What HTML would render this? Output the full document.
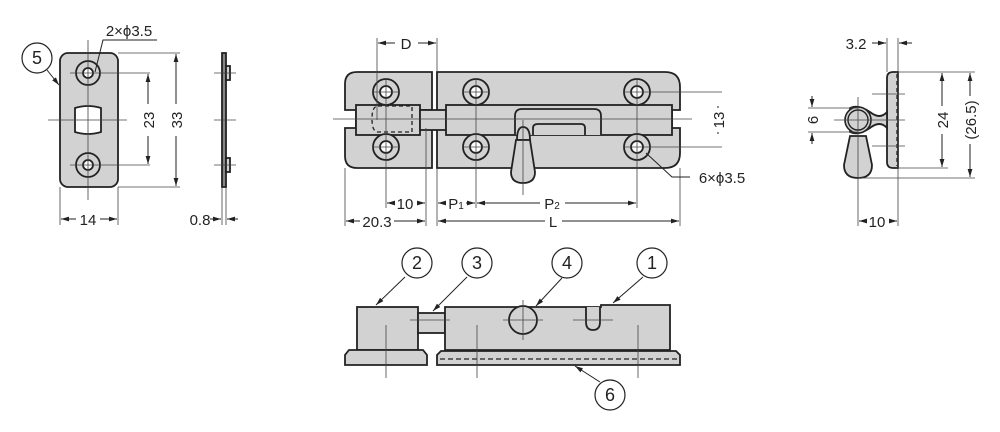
<!DOCTYPE html>
<html><head><style>html,body{margin:0;padding:0;background:#fff}svg{display:block}</style></head>
<body>
<svg width="1000" height="432" viewBox="0 0 1000 432" xmlns="http://www.w3.org/2000/svg" font-family="Liberation Sans, sans-serif" font-size="14" fill="#222">
<defs>
<marker id="a" viewBox="0 0 10 10" refX="10" refY="5" markerWidth="8" markerHeight="8" orient="auto-start-reverse"><path d="M0,2 L10,5 L0,8 z" fill="#222"/></marker>
</defs>
<g stroke="#222" stroke-width="1.8" fill="#d2d2d2">
<rect x="60" y="53" width="58" height="134" rx="8"/>
<circle cx="88" cy="73" r="12"/><circle cx="88" cy="73" r="5" fill="#fff"/>
<circle cx="88" cy="165" r="12"/><circle cx="88" cy="165" r="5" fill="#fff"/>
<path d="M75,108 Q88,104 101,108 L101,132 Q88,136 75,132 Z" fill="#fff"/>
<rect x="222" y="53" width="4" height="134" fill="#888"/>
<rect x="226" y="66" width="4" height="14"/><rect x="226" y="158" width="4" height="14"/>
<path d="M357,72 H432 V110 H356 V128 H432 V168 H357 Q345,168 345,156 V128 H356 V110 H345 V84 Q345,72 357,72 Z"/>
<path d="M437,72 H665 Q680,72 680,87 V110 H672 V128 H680 V153 Q680,168 665,168 H437 Z"/>
<rect x="356" y="105" width="64" height="30"/>
<rect x="420" y="110" width="26" height="20"/>
<rect x="446" y="105" width="226" height="30"/>
<path d="M515,135 V116 Q515,109 522,109 H594 Q601,109 601,116 V135" />
<path d="M533,135 V128 Q533,124 538,124 H581 Q585,124 585,128 V135" />
<path d="M517,140 Q517,127 523,127 Q530,127 530,140 Z"/>
<path d="M516,140 H530 L535,172 Q535,183 523,183 Q511,183 511,172 Z"/>
<path d="M378,106 H412 V132 H378 Q372,132 372,119 Q372,106 378,106" fill="none" stroke-dasharray="4,3" stroke-width="1.3"/>
<g>
<circle cx="386" cy="92" r="13"/><circle cx="386" cy="92" r="6" fill="#fff"/>
<circle cx="386" cy="147" r="13"/><circle cx="386" cy="147" r="6" fill="#fff"/>
<circle cx="476" cy="92" r="13"/><circle cx="476" cy="92" r="6" fill="#fff"/>
<circle cx="476" cy="147" r="13"/><circle cx="476" cy="147" r="6" fill="#fff"/>
<circle cx="637" cy="92" r="13"/><circle cx="637" cy="92" r="6" fill="#fff"/>
<circle cx="637" cy="147" r="13"/><circle cx="637" cy="147" r="6" fill="#fff"/>
</g>
<path d="M887,78 Q887,72 893,72 H898 V168 H893 Q887,168 887,162 Z"/>
<path d="M850,108 Q858,104 870,112 Q880,120 887,112 V128 Q880,120 870,128 Q858,136 850,132 Z"/>
<circle cx="858" cy="120" r="13" stroke-width="1.6"/><circle cx="858" cy="120" r="10" stroke-width="1.4"/>
<path d="M850,136 H866 L872,165 Q872,178 858,178 Q844,178 844,165 Z"/>
<rect x="357" y="307" width="61" height="43"/>
<path d="M349,350 H423 L427,355 V365 H345 V355 Z"/>
<rect x="418" y="313" width="27" height="20"/>
<path d="M445,307 H601 V305 H670 V350 H445 Z"/>
<path d="M441,351 H676 L680,355 V365 H437 V355 Z"/>
<path d="M586,307 V322 Q586,330 593,330 Q600,330 600,322 V307" fill="#d2d2d2"/>
<circle cx="523" cy="320" r="14"/>
</g>
<g stroke="#222" stroke-width="1.3" fill="none">
<line x1="440" y1="359" x2="678" y2="359" stroke-dasharray="5,3"/>
<line x1="897" y1="74" x2="897" y2="166" stroke-dasharray="4,3"/>
</g>
<g stroke="#444" stroke-width="0.8" fill="none">
<line x1="48" y1="120" x2="127" y2="120"/><line x1="88" y1="40" x2="88" y2="200"/>
<line x1="70" y1="73" x2="150" y2="73"/><line x1="70" y1="165" x2="150" y2="165"/>
<line x1="118" y1="53" x2="180" y2="53"/><line x1="118" y1="187" x2="180" y2="187"/>
<line x1="60" y1="187" x2="60" y2="225"/><line x1="118" y1="187" x2="118" y2="225"/>
<line x1="214" y1="73" x2="236" y2="73"/><line x1="214" y1="120" x2="236" y2="120"/><line x1="214" y1="165" x2="236" y2="165"/>
<line x1="222" y1="187" x2="222" y2="225"/><line x1="226" y1="187" x2="226" y2="225"/>
<line x1="333" y1="119" x2="692" y2="119"/>
<line x1="377" y1="38" x2="377" y2="120"/><line x1="437" y1="38" x2="437" y2="72"/>
<line x1="386" y1="78" x2="386" y2="208"/><line x1="476" y1="78" x2="476" y2="208"/><line x1="637" y1="78" x2="637" y2="208"/>
<line x1="523" y1="120" x2="523" y2="195"/>
<line x1="372" y1="92" x2="400" y2="92"/><line x1="372" y1="147" x2="400" y2="147"/>
<line x1="462" y1="92" x2="490" y2="92"/><line x1="462" y1="147" x2="490" y2="147"/>
<line x1="623" y1="92" x2="722" y2="92"/><line x1="623" y1="147" x2="722" y2="147"/>
<line x1="345" y1="168" x2="345" y2="226"/><line x1="426" y1="128" x2="426" y2="226"/>
<line x1="437" y1="168" x2="437" y2="226"/><line x1="680" y1="168" x2="680" y2="226"/>
<line x1="887" y1="38" x2="887" y2="72"/><line x1="898" y1="38" x2="898" y2="226"/>
<line x1="898" y1="72" x2="975" y2="72"/><line x1="898" y1="168" x2="948" y2="168"/><line x1="858" y1="178" x2="975" y2="178"/>
<line x1="808" y1="108" x2="858" y2="108"/><line x1="808" y1="132" x2="858" y2="132"/>
<line x1="834" y1="120" x2="905" y2="120"/><line x1="858" y1="97" x2="858" y2="226"/>
<line x1="872" y1="94" x2="905" y2="94"/><line x1="872" y1="146" x2="905" y2="146"/>
<line x1="386" y1="325" x2="386" y2="378"/><line x1="477" y1="325" x2="477" y2="378"/><line x1="638" y1="325" x2="638" y2="378"/>
<line x1="410" y1="320" x2="450" y2="320"/><line x1="503" y1="320" x2="543" y2="320"/><line x1="523" y1="300" x2="523" y2="340"/>
<line x1="573" y1="320" x2="613" y2="320"/>
</g>
<g stroke="#222" stroke-width="1" fill="none" marker-start="url(#a)" marker-end="url(#a)">
<line x1="148" y1="74" x2="148" y2="164"/><line x1="176" y1="54" x2="176" y2="186"/>
<line x1="718" y1="106" x2="718" y2="134"/>
<line x1="942" y1="73" x2="942" y2="167"/><line x1="970" y1="73" x2="970" y2="177"/>
</g>
<g fill="#fff">
<rect x="140" y="104" width="16" height="32"/><rect x="168" y="104" width="16" height="32"/>
<rect x="710" y="108" width="16" height="24"/>
<rect x="934" y="106" width="16" height="28"/><rect x="962" y="96" width="16" height="48"/>
</g>
<g stroke="#222" stroke-width="1" fill="none" marker-end="url(#a)">
<line x1="76" y1="219" x2="61" y2="219"/><line x1="100" y1="219" x2="117" y2="219"/>
<line x1="210" y1="219" x2="221" y2="219"/><line x1="238" y1="219" x2="227" y2="219"/>
<line x1="395" y1="43" x2="378" y2="43"/><line x1="418" y1="43" x2="436" y2="43"/>
<line x1="394" y1="203" x2="387" y2="203"/><line x1="417" y1="203" x2="425" y2="203"/>
<line x1="360" y1="221" x2="346" y2="221"/><line x1="394" y1="221" x2="425" y2="221"/>
<line x1="446" y1="203" x2="438" y2="203"/><line x1="466" y1="203" x2="475" y2="203"/>
<line x1="540" y1="203" x2="477" y2="203"/><line x1="565" y1="203" x2="636" y2="203"/>
<line x1="545" y1="221" x2="438" y2="221"/><line x1="562" y1="221" x2="679" y2="221"/>
<line x1="872" y1="43" x2="886" y2="43"/><line x1="912" y1="43" x2="899" y2="43"/>
<line x1="812" y1="96" x2="812" y2="107"/><line x1="812" y1="144" x2="812" y2="133"/>
<line x1="866" y1="221" x2="859" y2="221"/><line x1="889" y1="221" x2="897" y2="221"/>
<line x1="47" y1="70" x2="59" y2="85"/>
<line x1="405" y1="277" x2="376" y2="305"/><line x1="467" y1="277" x2="433" y2="311"/>
<line x1="562" y1="278" x2="536" y2="306"/><line x1="643" y1="277" x2="613" y2="303"/>
<line x1="600" y1="382" x2="575" y2="366"/>
</g>
<g stroke="#222" stroke-width="1" fill="none">
<polyline points="95,72 103,40 157,40"/>
<polyline points="646,153 672,177 690,177"/>
</g>
<g stroke="#222" stroke-width="1.2" fill="#fff">
<circle cx="37" cy="58" r="15"/>
<circle cx="417" cy="263" r="15"/><circle cx="477" cy="263" r="15"/><circle cx="567" cy="263" r="15"/><circle cx="652" cy="263" r="15"/>
<circle cx="610" cy="395" r="15"/>
</g>
<g font-size="15" text-anchor="middle">
<text x="37" y="64" font-size="18">5</text>
<text x="417" y="269" font-size="18">2</text><text x="477" y="269" font-size="18">3</text>
<text x="567" y="269" font-size="18">4</text><text x="652" y="269" font-size="18">1</text>
<text x="610" y="401" font-size="18">6</text>
<text x="129" y="36">2×ϕ3.5</text>
<text x="88" y="225">14</text>
<text x="200" y="225">0.8</text>
<text x="406" y="49">D</text>
<text x="405" y="209">10</text>
<text x="377" y="227">20.3</text>
<text x="456" y="209">P<tspan font-size="10">1</tspan></text>
<text x="552" y="209">P<tspan font-size="10">2</tspan></text>
<text x="553" y="227">L</text>
<text x="722" y="183">6×ϕ3.5</text>
<text x="856" y="49">3.2</text>
<text x="877" y="227">10</text>
<text transform="translate(154,120) rotate(-90)">23</text>
<text transform="translate(182,120) rotate(-90)">33</text>
<text transform="translate(724,120) rotate(-90)">13</text>
<text transform="translate(948,120) rotate(-90)">24</text>
<text transform="translate(976,120) rotate(-90)">(26.5)</text>
<text transform="translate(818,120) rotate(-90)">6</text>
</g>
</svg>
</body></html>
